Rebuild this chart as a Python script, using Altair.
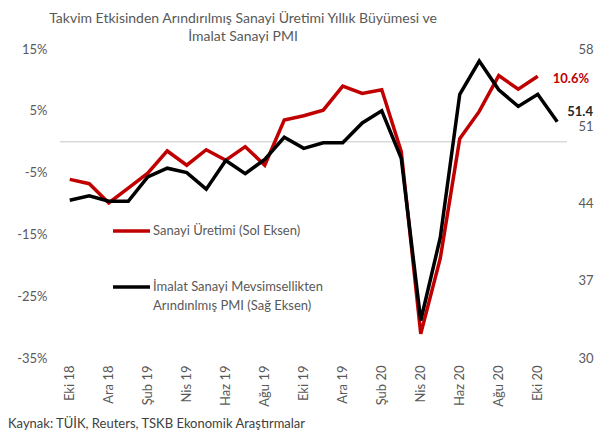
import altair as alt
import pandas as pd

months = ["Eki 18", "Kas 18", "Ara 18", "Oca 19", "Şub 19", "Mar 19", "Nis 19", "May 19",
          "Haz 19", "Tem 19", "Ağu 19", "Eyl 19", "Eki 19", "Kas 19", "Ara 19", "Oca 20",
          "Şub 20", "Mar 20", "Nis 20", "May 20", "Haz 20", "Tem 20", "Ağu 20", "Eyl 20",
          "Eki 20", "Kas 20"]
sanayi = [-6.1, -6.8, -9.9, -7.5, -5.1, -1.5, -3.8, -1.3, -3.0, -0.8, -3.8, 3.5, 4.2, 5.1,
          9.0, 7.8, 8.4, -1.6, -31.1, -18.9, 0.5, 4.9, 10.7, 8.5, 10.6, None]
pmi = [44.3, 44.7, 44.2, 44.2, 46.4, 47.2, 46.8, 45.3, 47.9, 46.7, 48.0, 50.0, 49.0, 49.5,
       49.5, 51.3, 52.4, 48.1, 33.4, 40.9, 53.9, 56.9, 54.3, 52.8, 53.9, 51.4]
left_ticks = [-35, -25, -15, -5, 5, 15]
right_ticks = [30, 37, 44, 51, 58]
title_lines = ["Takvim Etkisinden Arındırılmış Sanayi Üretimi Yıllık Büyümesi ve",
               "İmalat Sanayi PMI"]
legend_red = ["Sanayi Üretimi (Sol Eksen)"]
legend_black = ["İmalat Sanayi Mevsimsellikten", "Arındınlmış PMI (Sağ Eksen)"]
source = ["Kaynak: TÜİK, Reuters, TSKB Ekonomik Araştırmalar"]

FONT = "Lato"
GRAY = "#595959"
RED = "#C00000"

df = pd.DataFrame({"ay": months, "sanayi": sanayi, "pmi": pmi})
df_last_red = df[df["ay"] == "Eki 20"]
df_last_black = df[df["ay"] == "Kas 20"]

xenc = alt.X("ay:N", sort=months, title=None,
             axis=alt.Axis(values=months[::2], labelAngle=270, labelFont=FONT, labelFontSize=13,
                           labelColor=GRAY, ticks=False, domain=False, labelPadding=7,
                           grid=False))

zero = alt.Chart(pd.DataFrame({"z": [0]})).mark_rule(color="#D9D9D9", strokeWidth=1.5).encode(
    y=alt.Y("z:Q", scale=alt.Scale(domain=[-35, 15], nice=False, zero=False))
)

red = alt.Chart(df).mark_line(color=RED, strokeWidth=3.5, strokeJoin="miter").encode(
    x=xenc,
    y=alt.Y("sanayi:Q", title=None,
            scale=alt.Scale(domain=[-35, 15], nice=False, zero=False),
            axis=alt.Axis(orient="left", values=left_ticks, labelExpr="datum.value + '%'",
                          labelFont=FONT, labelFontSize=13, labelColor=GRAY, ticks=False,
                          domain=False, grid=False, labelPadding=13))
)

red_label = alt.Chart(df_last_red).transform_calculate(
    lbl="format(datum.sanayi, '.1f') + '%'"
).mark_text(
    color=RED, font=FONT, fontSize=13, fontWeight="bold", align="left", baseline="middle",
    dx=15, dy=3).encode(
    x=alt.X("ay:N", sort=months),
    y=alt.Y("sanayi:Q"),
    text="lbl:N")

title1 = alt.Chart(pd.DataFrame({"t": [title_lines[0]]})).mark_text(
    font=FONT, fontSize=14, color=GRAY, align="center", baseline="middle").encode(
    x=alt.value(183), y=alt.value(-30), text="t:N")
title2 = alt.Chart(pd.DataFrame({"t": [title_lines[1]]})).mark_text(
    font=FONT, fontSize=14, color=GRAY, align="center", baseline="middle").encode(
    x=alt.value(183), y=alt.value(-12), text="t:N")

src = alt.Chart(pd.DataFrame({"t": source})).mark_text(
    font=FONT, fontSize=13, color="#404040", align="left", baseline="middle").encode(
    x=alt.value(-52), y=alt.value(375), text="t:N")

leg_red_line = alt.Chart(pd.DataFrame({"a": [0]})).mark_rule(color=RED, strokeWidth=3.5).encode(
    x=alt.value(53), x2=alt.value(90), y=alt.value(182))
leg_red_text = alt.Chart(pd.DataFrame({"t": legend_red})).mark_text(
    font=FONT, fontSize=13, color=GRAY, align="left", baseline="middle").encode(
    x=alt.value(93), y=alt.value(182), text="t:N")
leg_black_line = alt.Chart(pd.DataFrame({"a": [0]})).mark_rule(color="black", strokeWidth=3.5).encode(
    x=alt.value(53), x2=alt.value(90), y=alt.value(238))
leg_black_text1 = alt.Chart(pd.DataFrame({"t": [legend_black[0]]})).mark_text(
    font=FONT, fontSize=13, color=GRAY, align="left", baseline="middle").encode(
    x=alt.value(93), y=alt.value(238), text="t:N")
leg_black_text2 = alt.Chart(pd.DataFrame({"t": [legend_black[1]]})).mark_text(
    font=FONT, fontSize=13, color=GRAY, align="left", baseline="middle").encode(
    x=alt.value(93), y=alt.value(257), text="t:N")

black = alt.Chart(df).mark_line(color="black", strokeWidth=3.5, strokeJoin="miter").encode(
    x=xenc,
    y=alt.Y("pmi:Q", title=None,
            scale=alt.Scale(domain=[30, 58], nice=False, zero=False),
            axis=alt.Axis(orient="right", values=right_ticks, labelFont=FONT, labelFontSize=13,
                          labelColor=GRAY, ticks=False, domain=False, grid=False,
                          labelPadding=11))
)
black_label = alt.Chart(df_last_black).mark_text(
    color="#262626", font=FONT, fontSize=13, fontWeight="bold", align="left", baseline="middle",
    dx=10, dy=-10).encode(
    x=alt.X("ay:N", sort=months),
    y=alt.Y("pmi:Q"),
    text=alt.Text("pmi:Q", format=".1f"))

left_layer = alt.layer(zero, red, red_label, title1, title2, src,
                       leg_red_line, leg_red_text, leg_black_line, leg_black_text1,
                       leg_black_text2)
right_layer = alt.layer(black, black_label)

chart = alt.layer(left_layer, right_layer).resolve_scale(y="independent").properties(
    width=507, height=309,
    padding={"left": 52, "top": 41, "right": 41, "bottom": 75},
    autosize=alt.AutoSizeParams(type="none"),
).configure_view(stroke=None)

chart.save("out.html", embed_options={"renderer": "svg", "actions": False})
